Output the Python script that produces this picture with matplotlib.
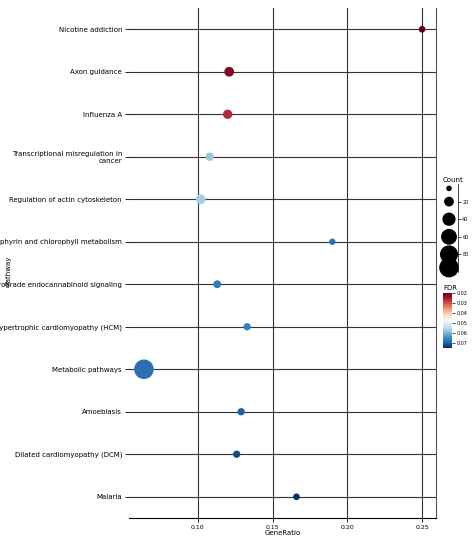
import matplotlib
matplotlib.use("Agg")
import matplotlib.pyplot as plt
import numpy as np

pathways = ["Nicotine addiction", "Axon guidance", "Influenza A",
            "Transcriptional misregulation in\ncancer", "Regulation of actin cytoskeleton",
            "Porphyrin and chlorophyll metabolism", "Retrograde endocannabinoid signaling",
            "Hypertrophic cardiomyopathy (HCM)", "Metabolic pathways", "Amoebiasis",
            "Dilated cardiomyopathy (DCM)", "Malaria"]
gene_ratio = [0.250, 0.121, 0.120, 0.108, 0.102, 0.190, 0.113, 0.133, 0.064, 0.129, 0.126, 0.166]
counts = [8, 20, 18, 14, 20, 7, 12, 10, 95, 10, 10, 8]
fdr = [0.020, 0.022, 0.027, 0.058, 0.057, 0.068, 0.067, 0.066, 0.068, 0.070, 0.072, 0.075]
legend_counts = [5, 20, 40, 60, 80, 95]

W, H = 474, 539
fig = plt.figure(figsize=(4.74, 5.39), dpi=100)
ax = fig.add_axes([129/W, 1-518/H, (436-129)/W, (518-8)/H])
y = np.arange(len(pathways))[::-1]
norm = plt.Normalize(0.02, 0.075)
cmap = plt.get_cmap("RdBu")
sc = ax.scatter(gene_ratio, y, s=np.array(counts)*1.8, c=fdr, cmap=cmap, norm=norm, zorder=3)
ax.set_xlim(0.054, 0.2593)
ax.set_ylim(-0.5, len(pathways)-0.5)
ax.set_xticks([0.10, 0.15, 0.20, 0.25])
ax.set_xticklabels(["0.10", "0.15", "0.20", "0.25"], fontsize=4.5)
ax.set_yticks(y)
ax.set_yticklabels(pathways, fontsize=5)
ax.grid(True, color="#333333", linewidth=0.8, zorder=0)
for s in ["top", "left"]:
    ax.spines[s].set_visible(False)
ax.spines["right"].set_color("#555555")
ax.tick_params(axis="y", length=3, width=0.6, pad=2)
ax.tick_params(axis="x", length=3, width=0.6, labelsize=4.5, pad=2)
ax.set_xlabel("GeneRatio", fontsize=5, labelpad=0)
fig.text(8/W, 1-270/H, "Pathway", rotation=90, fontsize=5, va="center", ha="center")

# size legend
lax = fig.add_axes([440/W, 1-272/H, 18/W, (272-184)/H])
lax.scatter([0]*len(legend_counts), legend_counts, s=np.array(legend_counts)*1.8, c="black", clip_on=False)
lax.set_xlim(-1, 1)
lax.set_ylim(100, 0)
lax.yaxis.tick_right()
lax.set_yticks([20, 40, 60, 80])
lax.set_yticklabels(["20", "40", "60", "80"])
lax.tick_params(length=2, width=0.5, pad=1, labelsize=3.5)
for s in ["top", "left", "bottom"]:
    lax.spines[s].set_visible(False)
lax.spines["right"].set_linewidth(0.5)
lax.spines["right"].set_position(("data", 1))
lax.set_xticks([])
lax.patch.set_alpha(0)
fig.text(443/W, 1-183/H, "Count", fontsize=5, va="bottom")

# colorbar
cax = fig.add_axes([443/W, 1-348/H, 9/W, (348-293)/H])
cb = fig.colorbar(sc, cax=cax, ticks=[0.02, 0.03, 0.04, 0.05, 0.06, 0.07])
cb.ax.invert_yaxis()
cb.ax.set_yticklabels(["0.02", "0.03", "0.04", "0.05", "0.06", "0.07"])
cb.ax.tick_params(length=2, width=0.5, pad=1, labelsize=3.5)
cb.outline.set_visible(False)
fig.text(443/W, 1-291/H, "FDR", fontsize=5, va="bottom")

fig.savefig("out.png", dpi=100)
